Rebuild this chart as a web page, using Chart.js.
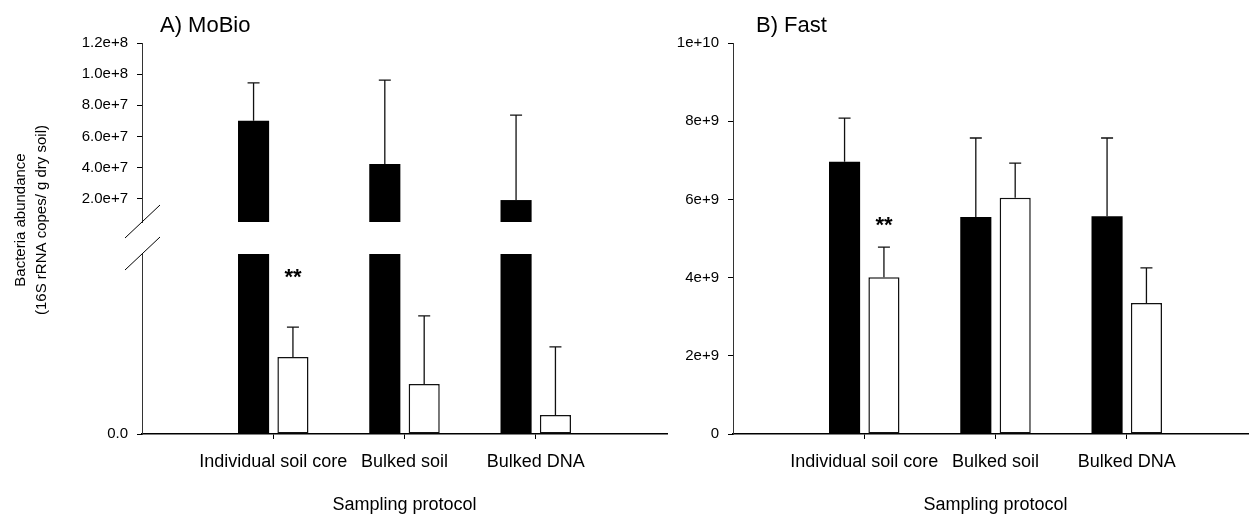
<!DOCTYPE html>
<html>
<head>
<meta charset="utf-8">
<script src="https://cdn.jsdelivr.net/npm/chart.js@4.4.1/dist/chart.umd.min.js"></script>
<style>
  html, body { margin: 0; padding: 0; background: #fff; overflow: hidden; }
  #wrap { position: relative; width: 1249px; height: 516px; overflow: hidden; }
  .panel { position: absolute; top: 0; height: 516px; }
  #panelA { left: 0; width: 690px; }
  #panelB { left: 670px; width: 611px; }
</style>
</head>
<body>
<div id="wrap">
  <div class="panel" id="panelA"><canvas id="chartA"></canvas></div>
  <div class="panel" id="panelB"><canvas id="chartB"></canvas></div>
</div>
<script>
const protocols = ['Individual soil core', 'Bulked soil', 'Bulked DNA'];

// A) MoBio (16S copies / g dry soil)
const mobioBlack = [7.0e7, 4.23e7, 1.91e7];
const mobioBlackErr = [2.44e7, 5.39e7, 5.46e7];
const mobioWhite = [2.14e6, 1.39e6, 0.53e6];
const mobioWhiteErr = [0.83e6, 1.89e6, 1.89e6];
const mobioUpperTicks = [2e7, 4e7, 6e7, 8e7, 1e8, 1.2e8];
const mobioLowerTicks = [0];

// B) Fast
const fastBlack = [6.96e9, 5.55e9, 5.57e9];
const fastBlackErr = [1.12e9, 2.02e9, 2.0e9];
const fastWhite = [4.01e9, 6.04e9, 3.35e9];
const fastWhiteErr = [0.77e9, 0.89e9, 0.9e9];
const fastTicks = [0, 2e9, 4e9, 6e9, 8e9, 1e10];

const FONT = 'Liberation Sans, Arial, sans-serif';
Chart.defaults.font.family = FONT;
Chart.defaults.color = '#000';

const xLabels = ['', ...protocols, ''];
const pad = arr => [null, ...arr, null];

function makeX() {
  return {
    type: 'category',
    offset: false,
    grid: {
      offset: false,
      drawOnChartArea: false,
      tickLength: 5,
      tickColor: c => (c.tick && c.tick.label) ? '#000' : 'rgba(0,0,0,0)'
    },
    border: { color: '#000', width: 1.5 },
    ticks: { color: '#000', font: { size: 18 }, padding: 12, maxRotation: 0, autoSkip: false },
    title: { display: true, text: 'Sampling protocol', color: '#000', font: { size: 18 }, padding: { top: 0, bottom: 0 } },
    afterFit: s => { s.height = 82; }
  };
}

function yBase(width) {
  return {
    type: 'linear',
    position: 'left',
    grid: { drawOnChartArea: false, tickLength: 5, color: '#000' },
    border: { color: '#333', width: 1 },
    ticks: { color: '#000', font: { size: 15 }, padding: 9 },
    afterFit: s => { s.width = width; }
  };
}

const deco = {
  id: 'deco',
  afterDatasetsDraw(chart, args, o) {
    const ctx = chart.ctx;
    ctx.save();
    ctx.strokeStyle = '#111';
    ctx.lineWidth = 1.3;
    chart.data.datasets.forEach((ds, i) => {
      if (!ds.errorBars) return;
      const meta = chart.getDatasetMeta(i);
      const ys = chart.scales[ds.yAxisID];
      meta.data.forEach((bar, j) => {
        const v = ds.data[j], e = ds.errorBars[j];
        if (v == null || e == null) return;
        const y0 = ys.getPixelForValue(v), y1 = ys.getPixelForValue(v + e);
        ctx.beginPath();
        ctx.moveTo(bar.x, y0); ctx.lineTo(bar.x, y1);
        ctx.moveTo(bar.x - 6, y1); ctx.lineTo(bar.x + 6, y1);
        ctx.stroke();
      });
    });

    // significance stars
    if (o.stars) {
      const s = o.stars;
      const meta = chart.getDatasetMeta(s.dataset);
      const bar = meta.data[s.index + 1];
      const y = chart.scales[s.axis].getPixelForValue(s.value);
      ctx.fillStyle = '#000';
      ctx.font = 'bold 22px ' + FONT;
      ctx.textAlign = 'center';
      ctx.textBaseline = 'alphabetic';
      ctx.fillText('**', bar.x, y + 12);
    }

    // axis break marks
    if (o.breakAxis) {
      const up = chart.scales.yTop, lo = chart.scales.yLow;
      const x = up.right;
      ctx.strokeStyle = '#000';
      ctx.lineWidth = 1;
      ctx.beginPath();
      ctx.moveTo(x - 17, up.bottom + 16); ctx.lineTo(x + 18, up.bottom - 17);
      ctx.moveTo(x - 17, lo.top + 16); ctx.lineTo(x + 18, lo.top - 17);
      ctx.stroke();
    }

    // panel title
    ctx.fillStyle = '#000';
    ctx.font = '22px ' + FONT;
    ctx.textAlign = 'left';
    ctx.textBaseline = 'alphabetic';
    ctx.fillText(o.title, o.titleX, 32);

    // y axis title
    if (o.yTitle) {
      ctx.save();
      ctx.font = '15px ' + FONT;
      ctx.textAlign = 'center';
      ctx.textBaseline = 'middle';
      ctx.translate(21, 220);
      ctx.rotate(-Math.PI / 2);
      ctx.fillText(o.yTitle[0], 0, 0);
      ctx.fillText(o.yTitle[1], 0, 21);
      ctx.restore();
    }
    ctx.restore();
  }
};

const common = {
  responsive: true,
  maintainAspectRatio: false,
  animation: false,
  events: [],
  datasets: { bar: { categoryPercentage: 0.6, barPercentage: 0.79 } }
};

// Panel A: broken axis built from stacked y scales
const yTop = Object.assign(yBase(142), {
  stack: 'a', stackWeight: 179, weight: 3, min: 5e6, max: 1.2e8,
  afterBuildTicks: s => { s.ticks = mobioUpperTicks.map(v => ({ value: v })); }
});
yTop.ticks.callback = v => v.toExponential(1);
const yGap = Object.assign(yBase(142), {
  stack: 'a', stackWeight: 32, weight: 2, min: 0, max: 1
});
yGap.grid = { display: false };
yGap.border = { display: false };
yGap.ticks = { display: false };
const yLow = Object.assign(yBase(142), {
  stack: 'a', stackWeight: 180, weight: 1, min: 0, max: 5e6,
  afterBuildTicks: s => { s.ticks = mobioLowerTicks.map(v => ({ value: v })); }
});
yLow.ticks.callback = () => '0.0';

new Chart(document.getElementById('chartA'), {
  type: 'bar',
  data: {
    labels: xLabels,
    datasets: [
      { data: pad(mobioBlack), errorBars: pad(mobioBlackErr), yAxisID: 'yTop', stack: 'black',
        backgroundColor: '#000', borderWidth: 0 },
      { data: pad(mobioBlack), yAxisID: 'yLow', stack: 'black',
        backgroundColor: '#000', borderWidth: 0 },
      { data: pad(mobioWhite), errorBars: pad(mobioWhiteErr), yAxisID: 'yLow', stack: 'white',
        backgroundColor: '#fff', borderColor: '#111', borderWidth: 1.5, borderSkipped: false }
    ]
  },
  options: Object.assign({}, common, {
    layout: { padding: { left: 0, top: 43, right: 23, bottom: 0 } },
    scales: { x: makeX(), yTop: Object.assign(yTop, { stacked: false }), yGap: yGap, yLow: Object.assign(yLow, { stacked: false }) },
    plugins: {
      legend: { display: false },
      tooltip: { enabled: false },
      deco: {
        title: 'A) MoBio', titleX: 160,
        stars: { dataset: 2, index: 0, axis: 'yLow', value: 4.5e6 },
        breakAxis: true,
        yTitle: ['Bacteria abundance', '(16S rRNA copes/ g dry soil)']
      }
    }
  }),
  plugins: [deco]
});

// Panel B
const yB = Object.assign(yBase(63), {
  min: 0, max: 1e10,
  afterBuildTicks: s => { s.ticks = fastTicks.map(v => ({ value: v })); }
});
yB.ticks.callback = v => v === 0 ? '0' : v.toExponential();

new Chart(document.getElementById('chartB'), {
  type: 'bar',
  data: {
    labels: xLabels,
    datasets: [
      { data: pad(fastBlack), errorBars: pad(fastBlackErr), yAxisID: 'y', stack: 'black',
        backgroundColor: '#000', borderWidth: 0 },
      { data: pad(fastWhite), errorBars: pad(fastWhiteErr), yAxisID: 'y', stack: 'white',
        backgroundColor: '#fff', borderColor: '#111', borderWidth: 1.5, borderSkipped: false }
    ]
  },
  options: Object.assign({}, common, {
    layout: { padding: { left: 0, top: 43, right: 23, bottom: 0 } },
    scales: { x: makeX(), y: Object.assign(yB, { stacked: false }) },
    plugins: {
      legend: { display: false },
      tooltip: { enabled: false },
      deco: {
        title: 'B) Fast', titleX: 86,
        stars: { dataset: 1, index: 0, axis: 'y', value: 5.47e9 }
      }
    }
  }),
  plugins: [deco]
});
</script>
</body>
</html>
